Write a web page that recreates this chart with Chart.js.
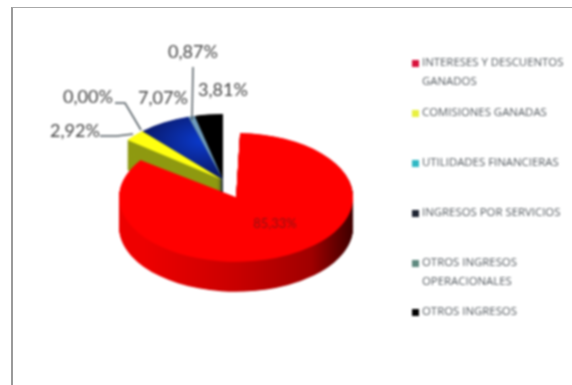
<!DOCTYPE html>
<html><head><meta charset="utf-8">
<script src="https://cdn.jsdelivr.net/npm/chart.js@4"></script>
<style>
html,body{margin:0;padding:0;background:#fff;overflow:hidden}
#wrap{position:relative;width:572px;height:385px}
#frame{position:absolute;left:11px;top:7px;right:0;bottom:-2px;border-left:2px solid #9a9a9a;border-top:1px solid #aaa;box-sizing:border-box}
canvas{position:absolute;left:0;top:0;filter:blur(0.8px)}
</style></head><body>
<div id="wrap"><div id="frame"></div><canvas id="c" width="572" height="385"></canvas></div>
<script>
const categories = ['INTERESES Y DESCUENTOS GANADOS','COMISIONES GANADAS','UTILIDADES FINANCIERAS','INGRESOS POR SERVICIOS','OTROS INGRESOS OPERACIONALES','OTROS INGRESOS'];
const legendLines = [['INTERESES Y DESCUENTOS','GANADOS'],['COMISIONES GANADAS'],['UTILIDADES FINANCIERAS'],['INGRESOS POR SERVICIOS'],['OTROS INGRESOS','OPERACIONALES'],['OTROS INGRESOS']];
const values = [85.33, 2.92, 0.00, 7.07, 0.87, 3.81];
const topColors = ['#ff0000','#ffff10','#30b8c0','#0b1f7a','#6f9cbc','#000000'];
const sideColors = ['#c00000','#8f9a12','#1a7a80','#071248','#3c5f78','#0a0a0a'];
const legendColors = ['#d8123c','#e8f040','#30b8c4','#1f2533','#5f8a80','#000000'];
const explode = [100, 0, 0, 0, 0, 0];

const SY = 0.55, DEPTH = 30, CY = 185;
const FAN_SCALE = 1.304, FAN_DX = -2, FAN_DY = -5;
const labelSpots = [[275,224,'#8c1212',13],[75,131,'#444',18],[88,97,'#444',18],[163,98,'#444',18],[193,52,'#444',18],[223,90,'#444',18]];
const leaders = [[[100,136],[117,136],[133,134]],[[115,103],[125,103],[141,130]],[[193,67],[192,120]]];
const legendRows = [63,113,163,213,263,312];

const pie3d = {
  id:'pie3d',
  beforeDatasetsDraw(chart){
    const ctx = chart.ctx, arcs = chart.getDatasetMeta(0).data;
    const cx = arcs[0].x, cy0 = arcs[0].y;
    const fan = (i)=>{
      if(i===0) return;
      ctx.translate(cx+FAN_DX, cy0+FAN_DY/SY);
      ctx.scale(FAN_SCALE, FAN_SCALE);
      ctx.translate(-cx,-cy0);
    };
    const order = [5,4,3,2,1,0];
    ctx.save();
    ctx.translate(0, CY);
    ctx.scale(1, SY);
    ctx.translate(0, -cy0);
    order.forEach(i=>{
      const arc = arcs[i], base = arc.options;
      let side = sideColors[i];
      if(i===0){
        const g = ctx.createLinearGradient(arc.x-arc.outerRadius,0,arc.x+arc.outerRadius+25,0);
        g.addColorStop(0,'#ee0000');g.addColorStop(.45,'#c80000');g.addColorStop(.8,'#a00000');g.addColorStop(1,'#3c0000');
        side = g;
      }
      arc.options = Object.assign({}, base, {backgroundColor: side});
      for(let d=DEPTH/SY; d>0; d-=1){
        ctx.save();ctx.translate(0,d);fan(i);arc.draw(ctx);ctx.restore();
      }
      arc.options = base;
      ctx.save();
      fan(i);
      if(i===3){
        const g = ctx.createRadialGradient(cx-14,cy0-55,4,cx-14,cy0-55,48);
        g.addColorStop(0,'#0a38c8');g.addColorStop(1,'#0a1a6c');
        arc.options = Object.assign({}, base, {backgroundColor: g});
      }
      arc.draw(ctx);
      arc.options = base;
      ctx.restore();
    });
    ctx.restore();
    return false;
  },
  afterDraw(chart){
    const ctx = chart.ctx;
    ctx.save();
    ctx.strokeStyle='#505a60';ctx.lineWidth=1.5;
    leaders.forEach(l=>{ctx.beginPath();l.forEach((p,i)=>i?ctx.lineTo(p[0],p[1]):ctx.moveTo(p[0],p[1]));ctx.stroke();});
    ctx.textAlign='center';ctx.textBaseline='middle';
    values.forEach((v,i)=>{
      const s = labelSpots[i];
      ctx.fillStyle=s[2];ctx.font=s[3]+'px Lato, "Open Sans", sans-serif';
      ctx.fillText(v.toFixed(2).replace('.',',')+'%',s[0],s[1]);
    });
    ctx.textAlign='left';
    ctx.font='11.4px "Open Sans", sans-serif';
    legendLines.forEach((lines,i)=>{
      const y=legendRows[i];
      ctx.fillStyle=legendColors[i];ctx.fillRect(412,y-3,7,7);
      ctx.fillStyle='#555b60';
      lines.forEach((t,k)=>ctx.fillText(t,422,y+k*19));
    });
    ctx.restore();
  }
};

new Chart(document.getElementById('c'),{
  type:'pie',
  data:{labels:categories,datasets:[{data:values,backgroundColor:topColors,borderWidth:0,offset:explode}]},
  options:{
    responsive:false,animation:false,
    layout:{padding:{left:83,right:205,top:50.5,bottom:50.5}},
    plugins:{legend:{display:false},tooltip:{enabled:false}}
  },
  plugins:[pie3d]
});
</script>
</body></html>
